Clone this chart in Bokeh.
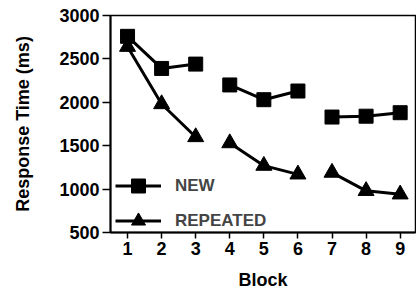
from bokeh.plotting import figure
from bokeh.models import Range1d, FixedTicker, Legend, LegendItem
from bokeh.embed import file_html
from bokeh.resources import INLINE

blocks = [1, 2, 3, 4, 5, 6, 7, 8, 9]
phase = [1, 1, 1, 2, 2, 2, 3, 3, 3]
new_rt = [2760, 2390, 2440, 2200, 2030, 2130, 1830, 1840, 1880]
rep_rt = [2640, 1980, 1600, 1530, 1270, 1170, 1190, 980, 940]
y_ticks = [500, 1000, 1500, 2000, 2500, 3000]
x_title = "Block"
y_title = "Response Time (ms)"
series_names = ["NEW", "REPEATED"]

FONT = "Liberation Sans"

p = figure(width=416, height=292, output_backend="svg", toolbar_location=None,
           x_range=Range1d(0.5, 9.45), y_range=Range1d(500, 3000),
           min_border_left=110, min_border_right=1, min_border_top=15,
           min_border_bottom=58)

p.xgrid.visible = False
p.ygrid.visible = False
p.outline_line_color = "black"
p.outline_line_width = 1.5
p.outline_line_alpha = 1

new_renderers = []
rep_renderers = []
for ph in sorted(set(phase)):
    idx = [i for i, v in enumerate(phase) if v == ph]
    xs = [blocks[i] for i in idx]
    new_renderers.append(p.line(xs, [new_rt[i] for i in idx], line_width=3, line_color="black"))
    rep_renderers.append(p.line(xs, [rep_rt[i] for i in idx], line_width=3, line_color="black"))

sq = p.scatter(blocks, new_rt, marker="square", size=14, fill_color="black", line_color="black")
tri = p.scatter(blocks, rep_rt, marker="triangle", size=16, fill_color="black", line_color="black")

legend = Legend(items=[
    LegendItem(label=series_names[0], renderers=[new_renderers[0], sq]),
    LegendItem(label=series_names[1], renderers=[rep_renderers[0], tri]),
], location=(5, -6), padding=0, margin=0, spacing=-9, glyph_width=46, glyph_height=35,
    label_height=35, label_standoff=14, label_text_font=FONT,
    label_text_font_style="bold", label_text_font_size="17px",
    background_fill_alpha=0, border_line_alpha=0)
p.add_layout(legend)

p.xaxis.ticker = FixedTicker(ticks=blocks)
p.yaxis.ticker = FixedTicker(ticks=y_ticks)
p.xaxis.axis_label = x_title
p.yaxis.axis_label = y_title
for ax in (p.xaxis, p.yaxis):
    ax.minor_tick_line_color = None
    ax.major_tick_in = 0
    ax.axis_line_width = 2
    ax.major_tick_line_width = 1.5
    ax.major_label_text_font = FONT
    ax.major_label_text_font_style = "bold"
    ax.major_label_text_font_size = "18px"
    ax.major_label_text_color = "black"
    ax.axis_label_text_font = FONT
    ax.axis_label_text_font_style = "bold"
    ax.axis_label_text_font_size = "18px"
    ax.axis_label_text_color = "black"
p.xaxis.major_tick_out = 6
p.yaxis.major_tick_out = 8
p.xaxis.major_label_standoff = 3
p.yaxis.major_label_standoff = 3
p.xaxis.axis_label_standoff = 12
p.yaxis.axis_label_standoff = 23

open("out.html", "w").write(file_html(p, INLINE))
